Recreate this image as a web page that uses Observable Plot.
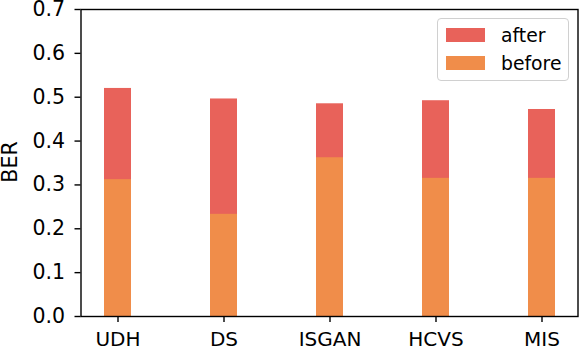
<!DOCTYPE html>
<html>
<head>
<meta charset="utf-8">
<script src="https://cdn.jsdelivr.net/npm/d3@7"></script>
<script src="https://cdn.jsdelivr.net/npm/@observablehq/plot@0.6"></script>
<style>
  html, body { margin: 0; padding: 0; background: #fff; }
  #wrap { position: relative; width: 581px; height: 350px; font-family: "DejaVu Sans", sans-serif; }
  #wrap svg text, #wrap svg g { font-size: 20.5px !important; font-family: "DejaVu Sans", sans-serif !important; }
  #wrap svg g[aria-label="x-axis tick label"], #wrap svg g[aria-label="x-axis tick label"] text { font-size: 20px !important; }
  #legend { position: absolute; left: 437px; top: 18px; width: 132px; height: 63px; box-sizing: border-box;
            border: 1.4px solid #d0d0d0; border-radius: 4px; background: rgba(255,255,255,0.8); }
  .item { position: absolute; left: 8px; height: 14px; display: flex; align-items: center; font-size: 18.8px; color: #000; }
  .sw { width: 39px; height: 14px; margin-right: 16px; flex: none; }
</style>
</head>
<body>
<div id="wrap"></div>
<script>
const methods = ["UDH", "DS", "ISGAN", "HCVS", "MIS"];
const afterBER = [0.520, 0.496, 0.485, 0.492, 0.472];
const beforeBER = [0.312, 0.233, 0.362, 0.315, 0.315];
const yTicks = [0.0, 0.1, 0.2, 0.3, 0.4, 0.5, 0.6, 0.7];
const seriesNames = ["after", "before"];
const seriesColors = ["#E8625A", "#F08D4A"];

const afterData = methods.map((m, i) => ({method: m, value: afterBER[i]}));
const beforeData = methods.map((m, i) => ({method: m, value: beforeBER[i]}));

const chart = Plot.plot({
  width: 581,
  height: 350,
  marginLeft: 80.5,
  marginRight: 3.5,
  marginTop: 9,
  marginBottom: 34,
  style: {fontFamily: "DejaVu Sans, sans-serif", fontSize: "20.5px", color: "#000", background: "#fff"},
  x: {type: "band", domain: methods, paddingInner: 0.75, paddingOuter: 0.2125, label: null},
  y: {domain: [0, 0.7], label: null},
  marks: [
    Plot.barY(afterData, {x: "method", y: "value", fill: seriesColors[0]}),
    Plot.barY(beforeData, {x: "method", y: "value", fill: seriesColors[1]}),
    Plot.axisX({tickSize: 6, tickPadding: 9, strokeWidth: 1.4, label: null}),
    Plot.axisY({ticks: yTicks, tickFormat: d3.format(".1f"), tickSize: 6, tickPadding: 10, strokeWidth: 1.4, label: null}),
    Plot.frame({stroke: "#000", strokeWidth: 1.4})
  ]
});

const wrap = document.getElementById("wrap");
wrap.appendChild(chart);

// y axis title
const svg = d3.select(chart);
svg.append("text")
  .attr("transform", "translate(16.7,162) rotate(-90)")
  .attr("text-anchor", "middle")
  .attr("fill", "#000")
  .text("BER");

// legend
const legend = document.createElement("div");
legend.id = "legend";
seriesNames.forEach((name, i) => {
  const item = document.createElement("div");
  item.className = "item";
  item.style.top = (9 + i * 28) + "px";
  const sw = document.createElement("div");
  sw.className = "sw";
  sw.style.background = seriesColors[i];
  const label = document.createElement("span");
  label.textContent = name;
  item.appendChild(sw);
  item.appendChild(label);
  legend.appendChild(item);
});
wrap.appendChild(legend);
</script>
</body>
</html>
